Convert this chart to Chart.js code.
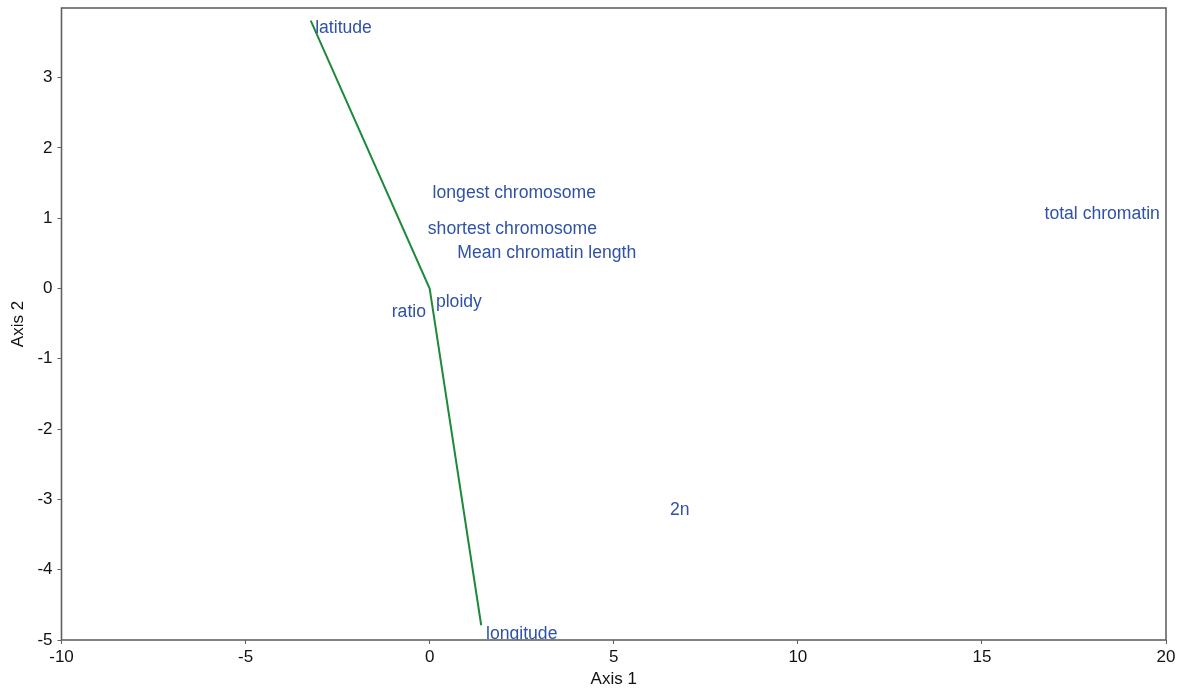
<!DOCTYPE html>
<html>
<head>
<meta charset="utf-8">
<script src="https://cdn.jsdelivr.net/npm/chart.js@4.4.0/dist/chart.umd.min.js"></script>
<style>
  html, body { margin: 0; padding: 0; background: #ffffff; }
  #wrap { width: 1180px; height: 693px; position: relative; }
</style>
</head>
<body>
<div id="wrap"><canvas id="c" width="1180" height="693"></canvas></div>
<script>
// Biplot trace (green line)
const lineX = [-3.23, 0, 1.40];
const lineY = [3.81, 0, -4.79];

// Variable labels (text anchor: left edge, vertical middle)
const varNames = ['latitude', 'longest chromosome', 'shortest chromosome', 'Mean chromatin length',
                  'ploidy', 'ratio', 'total chromatin', '2n', 'longitude'];
const varX = [-3.11, 0.08, -0.05, 0.75, 0.17, -1.03, 16.70, 6.53, 1.53];
const varY = [3.70, 1.35, 0.85, 0.50, -0.20, -0.33, 1.06, -3.15, -4.92];

// Axis ticks
const xTicks = [-10, -5, 0, 5, 10, 15, 20];
const yTicks = [-5, -4, -3, -2, -1, 0, 1, 2, 3];
const xRange = [-10, 20];
const yRange = [-5, 3.99];

const FONT = "'Liberation Sans', Arial, Helvetica, sans-serif";
const AXIS_COLOR = '#5f6360';
const LABEL_COLOR = '#2f51a8';
const LINE_COLOR = '#1d8a3a';

const labelPlugin = {
  id: 'varLabels',
  afterDatasetsDraw(chart) {
    const ctx = chart.ctx;
    const xs = chart.scales.x, ys = chart.scales.y;
    const a = chart.chartArea;
    ctx.save();
    ctx.beginPath();
    ctx.rect(a.left, a.top, a.right - a.left, a.bottom - a.top);
    ctx.clip();
    ctx.font = '17.6px ' + FONT;
    ctx.fillStyle = LABEL_COLOR;
    ctx.textAlign = 'left';
    ctx.textBaseline = 'middle';
    varNames.forEach((n, i) => {
      ctx.fillText(n, xs.getPixelForValue(varX[i]), ys.getPixelForValue(varY[i]));
    });
    ctx.restore();
    // frame
    ctx.save();
    ctx.strokeStyle = AXIS_COLOR;
    ctx.lineWidth = 1.6;
    ctx.strokeRect(a.left, a.top, a.right - a.left, a.bottom - a.top);
    ctx.restore();
  }
};

new Chart(document.getElementById('c'), {
  type: 'scatter',
  data: {
    datasets: [{
      data: lineX.map((x, i) => ({ x: x, y: lineY[i] })),
      showLine: true,
      borderColor: LINE_COLOR,
      borderWidth: 2,
      pointRadius: 0,
      fill: false,
      tension: 0
    }]
  },
  options: {
    responsive: false,
    animation: false,
    events: [],
    layout: { padding: { top: 8, right: 14, left: 0, bottom: 0 } },
    plugins: { legend: { display: false }, tooltip: { enabled: false } },
    scales: {
      x: {
        type: 'linear',
        min: xRange[0], max: xRange[1],
        afterBuildTicks: s => { s.ticks = xTicks.map(v => ({ value: v })); },
        afterFit: s => { s.height = 53; s.paddingLeft = 0; s.paddingRight = 0; },
        border: { display: false },
        grid: { drawOnChartArea: false, drawTicks: true, tickLength: 4, color: AXIS_COLOR, lineWidth: 1 },
        ticks: { color: '#111', font: { family: FONT, size: 17 }, padding: 3, maxRotation: 0, autoSkip: false },
        title: { display: true, text: 'Axis 1', color: '#111', font: { family: FONT, size: 17 }, padding: { top: 2, bottom: 3 } }
      },
      y: {
        type: 'linear',
        min: yRange[0], max: yRange[1],
        afterBuildTicks: s => { s.ticks = yTicks.map(v => ({ value: v })); },
        afterFit: s => { s.width = 61.5; s.paddingTop = 0; s.paddingBottom = 0; },
        border: { display: false },
        grid: { drawOnChartArea: false, drawTicks: true, tickLength: 4, color: AXIS_COLOR, lineWidth: 1 },
        ticks: { color: '#111', font: { family: FONT, size: 17 }, padding: 5, autoSkip: false },
        title: { display: true, text: 'Axis 2', color: '#111', font: { family: FONT, size: 17 }, padding: { top: 8, bottom: 2 } }
      }
    }
  },
  plugins: [labelPlugin]
});
</script>
</body>
</html>
